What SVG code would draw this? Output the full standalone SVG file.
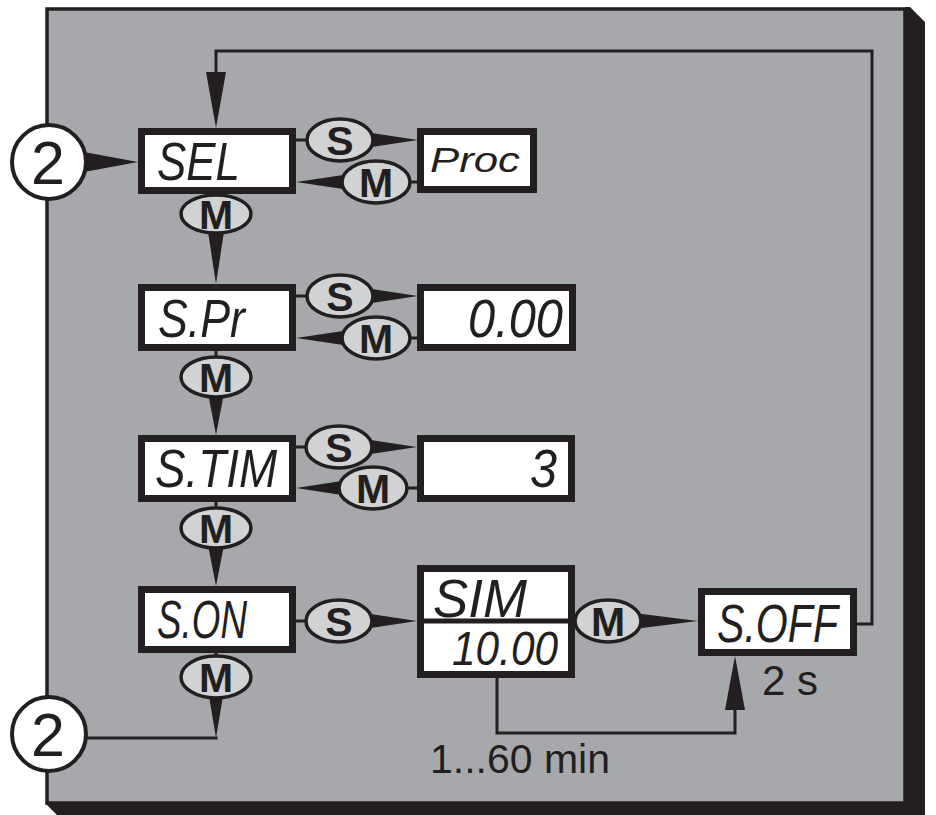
<svg xmlns="http://www.w3.org/2000/svg" width="936" height="815" viewBox="0 0 936 815">
<defs>
<style>
.ln{fill:none;stroke:#231f20;stroke-width:3}
.ah{fill:#231f20;stroke:none}
.box{fill:#ffffff;stroke:#231f20;stroke-width:7}
.ov{fill:#d1d2d4;stroke:#231f20;stroke-width:3.5}
.ot{font-family:"Liberation Sans",Arial,sans-serif;font-weight:bold;font-size:41px;fill:#231f20;text-anchor:middle}
.lcd{font-family:"Liberation Sans",Arial,sans-serif;font-style:italic;font-size:53px;fill:#231f20}
.lbl{font-family:"Liberation Sans",Arial,sans-serif;font-size:41px;fill:#231f20}
.cir{fill:#ffffff;stroke:#231f20;stroke-width:4}
.cn{font-family:"Liberation Sans",Arial,sans-serif;font-size:61px;fill:#231f20;text-anchor:middle}
</style>
</defs>
<rect width="936" height="815" fill="#ffffff"/>
<g id="panel">
<rect x="47" y="9" width="858" height="794" fill="#a7a8ab" stroke="#231f20" stroke-width="3.5"/>
<path d="M905,7 L910,7 L925,22 L925,815 L57,815 L45,803 L905,803 Z" fill="#231f20"/>
</g>
<g id="connectors">
<path class="ln" d="M857,624 H872 V51 H216 V74"/>
<polygon class="ah" points="206,72 226,72 216,128"/>
<polygon class="ah" points="84,152 84,172 138,162"/>
<path class="ln" d="M296,140 H310 M410,182 H418"/>
<polygon class="ah" points="365,132 365,148 418,140"/>
<polygon class="ah" points="350,174 350,190 296,182"/>
<polygon class="ah" points="207,225 225,225 216,284"/>
<path class="ln" d="M296,296 H310 M410,338 H418"/>
<polygon class="ah" points="365,288 365,304 418,296"/>
<polygon class="ah" points="350,330 350,346 296,338"/>
<path class="ln" d="M216,351 V358"/>
<polygon class="ah" points="207,388 225,388 216,435"/>
<path class="ln" d="M296,447 H310 M406,488 H417"/>
<polygon class="ah" points="364,439 364,455 417,447"/>
<polygon class="ah" points="348,480 348,496 296,488"/>
<path class="ln" d="M216,502 V510"/>
<polygon class="ah" points="207,540 225,540 216,586"/>
<path class="ln" d="M296,621 H308"/>
<polygon class="ah" points="364,613 364,629 417,621"/>
<path class="ln" d="M216,653 V658"/>
<polygon class="ah" points="208,690 224,690 216,738"/>
<path class="ln" d="M86,738 H217.5"/>
<path class="ln" d="M574,621 H578"/>
<polygon class="ah" points="634,613 634,629 698,621"/>
<path class="ln" d="M497,678 V733 H735 V706"/>
<polygon class="ah" points="725,710 745,710 735,656"/>
</g>
<g id="n-circle-top">
<circle class="cir" cx="49" cy="162" r="37"/>
<text class="cn" x="48" y="184">2</text>
</g>
<g id="n-circle-bottom">
<circle class="cir" cx="49" cy="734" r="37"/>
<text class="cn" x="48" y="756">2</text>
</g>
<g id="n-sel">
<rect class="box" x="141.5" y="131.5" width="151" height="59"/>
<text class="lcd" x="157" y="180" textLength="83" lengthAdjust="spacingAndGlyphs">SEL</text>
</g>
<g id="n-proc">
<rect class="box" x="420.5" y="131.5" width="113" height="58"/>
<text class="lcd" x="430" y="172" textLength="90" lengthAdjust="spacingAndGlyphs" style="font-size:35px">Proc</text>
</g>
<g id="n-spr">
<rect class="box" x="141.5" y="287.5" width="151" height="60"/>
<text class="lcd" x="158" y="337" textLength="87" lengthAdjust="spacingAndGlyphs">S.Pr</text>
</g>
<g id="n-val000">
<rect class="box" x="420.5" y="287.5" width="152" height="60"/>
<text class="lcd" x="468" y="337" textLength="95" lengthAdjust="spacingAndGlyphs">0.00</text>
</g>
<g id="n-stim">
<rect class="box" x="141.5" y="438.5" width="151" height="60"/>
<text class="lcd" x="155" y="487" textLength="122" lengthAdjust="spacingAndGlyphs">S.TIM</text>
</g>
<g id="n-val3">
<rect class="box" x="420.5" y="438.5" width="151" height="60"/>
<text class="lcd" x="530" y="487" textLength="27" lengthAdjust="spacingAndGlyphs">3</text>
</g>
<g id="n-son">
<rect class="box" x="141.5" y="589.5" width="151" height="60"/>
<text class="lcd" x="157" y="638" textLength="90" lengthAdjust="spacingAndGlyphs">S.ON</text>
</g>
<g id="n-sim">
<rect class="box" x="420.5" y="568.5" width="151" height="106"/>
<line x1="417" y1="621" x2="575" y2="621" stroke="#231f20" stroke-width="5"/>
<text class="lcd" x="433" y="617" textLength="94" lengthAdjust="spacingAndGlyphs">SIM</text>
<text class="lcd" x="452" y="665" textLength="106" lengthAdjust="spacingAndGlyphs" style="font-size:48px">10.00</text>
</g>
<g id="n-soff">
<rect class="box" x="701.5" y="591.5" width="152" height="61"/>
<text class="lcd" x="717" y="642" textLength="121" lengthAdjust="spacingAndGlyphs">S.OFF</text>
</g>
<g id="keys">
<g id="k-s1"><ellipse class="ov" cx="340" cy="140" rx="33" ry="21"/><text class="ot" x="340" y="155">S</text></g>
<g id="k-m1"><ellipse class="ov" cx="376" cy="182" rx="34" ry="21"/><text class="ot" x="376" y="197">M</text></g>
<g id="k-m1v"><ellipse class="ov" cx="216" cy="214" rx="35" ry="19"/><text class="ot" x="216" y="229">M</text></g>
<g id="k-s2"><ellipse class="ov" cx="340" cy="296" rx="33" ry="21"/><text class="ot" x="340" y="311">S</text></g>
<g id="k-m2"><ellipse class="ov" cx="376" cy="338" rx="34" ry="21"/><text class="ot" x="376" y="353">M</text></g>
<g id="k-m2v"><ellipse class="ov" cx="216" cy="377" rx="35" ry="20"/><text class="ot" x="216" y="392">M</text></g>
<g id="k-s3"><ellipse class="ov" cx="339" cy="447" rx="33" ry="21"/><text class="ot" x="339" y="462">S</text></g>
<g id="k-m3"><ellipse class="ov" cx="373" cy="488" rx="34" ry="21"/><text class="ot" x="373" y="503">M</text></g>
<g id="k-m3v"><ellipse class="ov" cx="216" cy="528" rx="35" ry="20"/><text class="ot" x="216" y="543">M</text></g>
<g id="k-s4"><ellipse class="ov" cx="339" cy="621" rx="33" ry="21"/><text class="ot" x="339" y="636">S</text></g>
<g id="k-m4v"><ellipse class="ov" cx="216" cy="677" rx="35" ry="21"/><text class="ot" x="216" y="692">M</text></g>
<g id="k-m5"><ellipse class="ov" cx="608" cy="621" rx="33" ry="21"/><text class="ot" x="608" y="636">M</text></g>
</g>
<g id="labels">
<text class="lbl" x="430" y="773">1...60 min</text>
<text class="lbl" x="762" y="695" style="font-size:42px">2 s</text>
</g>
</svg>
